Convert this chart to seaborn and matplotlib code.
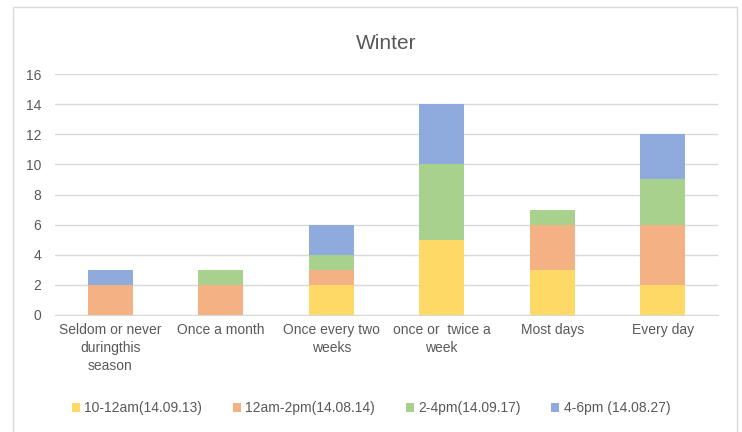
import numpy as np
import pandas as pd
import seaborn as sns
import matplotlib.pyplot as plt
from matplotlib.patches import Rectangle

categories = ["Seldom or never\nduringthis\nseason", "Once a month", "Once every two\nweeks",
              "once or  twice a\nweek", "Most days", "Every day"]
series = ["10-12am(14.09.13)", "12am-2pm(14.08.14)", "2-4pm(14.09.17)", "4-6pm (14.08.27)"]
am_10_12 = [0, 0, 2, 5, 3, 2]
am_12_2pm = [2, 2, 1, 0, 3, 4]
pm_2_4 = [0, 1, 1, 5, 1, 3]
pm_4_6 = [1, 0, 2, 4, 0, 3]
colors = ["#FFD966", "#F4B183", "#A9D18E", "#8FAADC"]

sns.set_style("white")
plt.rcParams["font.family"] = ["Liberation Sans", "DejaVu Sans"]

fig = plt.figure(figsize=(7.42, 4.32), dpi=100)
ax = fig.add_axes([55 / 742, 1 - 315 / 432, 663 / 742, (315 - 74) / 432])

bottom = np.zeros(len(categories))
for name, vals, col in zip(series, [am_10_12, am_12_2pm, pm_2_4, pm_4_6], colors):
    df = pd.DataFrame({"cat": categories, "val": vals})
    sns.barplot(data=df, x="cat", y="val", bottom=bottom, color=col, width=0.41,
                label=name, ax=ax, saturation=1, linewidth=0, legend=False)
    bottom = bottom + np.array(vals)

handles, labels = ax.get_legend_handles_labels()
if ax.get_legend() is not None:
    ax.get_legend().remove()

ax.set_ylim(0, 16)
ax.set_xlim(-0.5, 5.5)
ax.set_yticks(range(0, 17, 2))
ax.yaxis.grid(True, color="#D9D9D9", linewidth=1)
ax.set_axisbelow(True)
for s in ["top", "right", "left"]:
    ax.spines[s].set_visible(False)
ax.spines["bottom"].set_color("#D9D9D9")
ax.set_xlabel("")
ax.set_ylabel("")
ax.tick_params(axis="both", length=0, labelsize=10, labelcolor="#595959")
ax.tick_params(axis="y", pad=10)
ax.tick_params(axis="x", pad=6)
for t in ax.get_xticklabels():
    t.set_linespacing(1.35)
ax.set_title("Winter", fontsize=15, color="#595959", pad=18)

fig.legend(handles, labels, loc="center", bbox_to_anchor=(0.5, 1 - 408 / 432), ncol=4,
           frameon=False, fontsize=10, handlelength=0.6, handleheight=0.6,
           handletextpad=0.3, columnspacing=2.2, labelcolor="#595959")

fig.patches.append(Rectangle((13 / 742, -0.01), (737 - 13) / 742, 1 - 7 / 432 + 0.01,
                             transform=fig.transFigure, fill=False, edgecolor="#D9D9D9",
                             linewidth=1))

fig.savefig("out.png", dpi=100)
